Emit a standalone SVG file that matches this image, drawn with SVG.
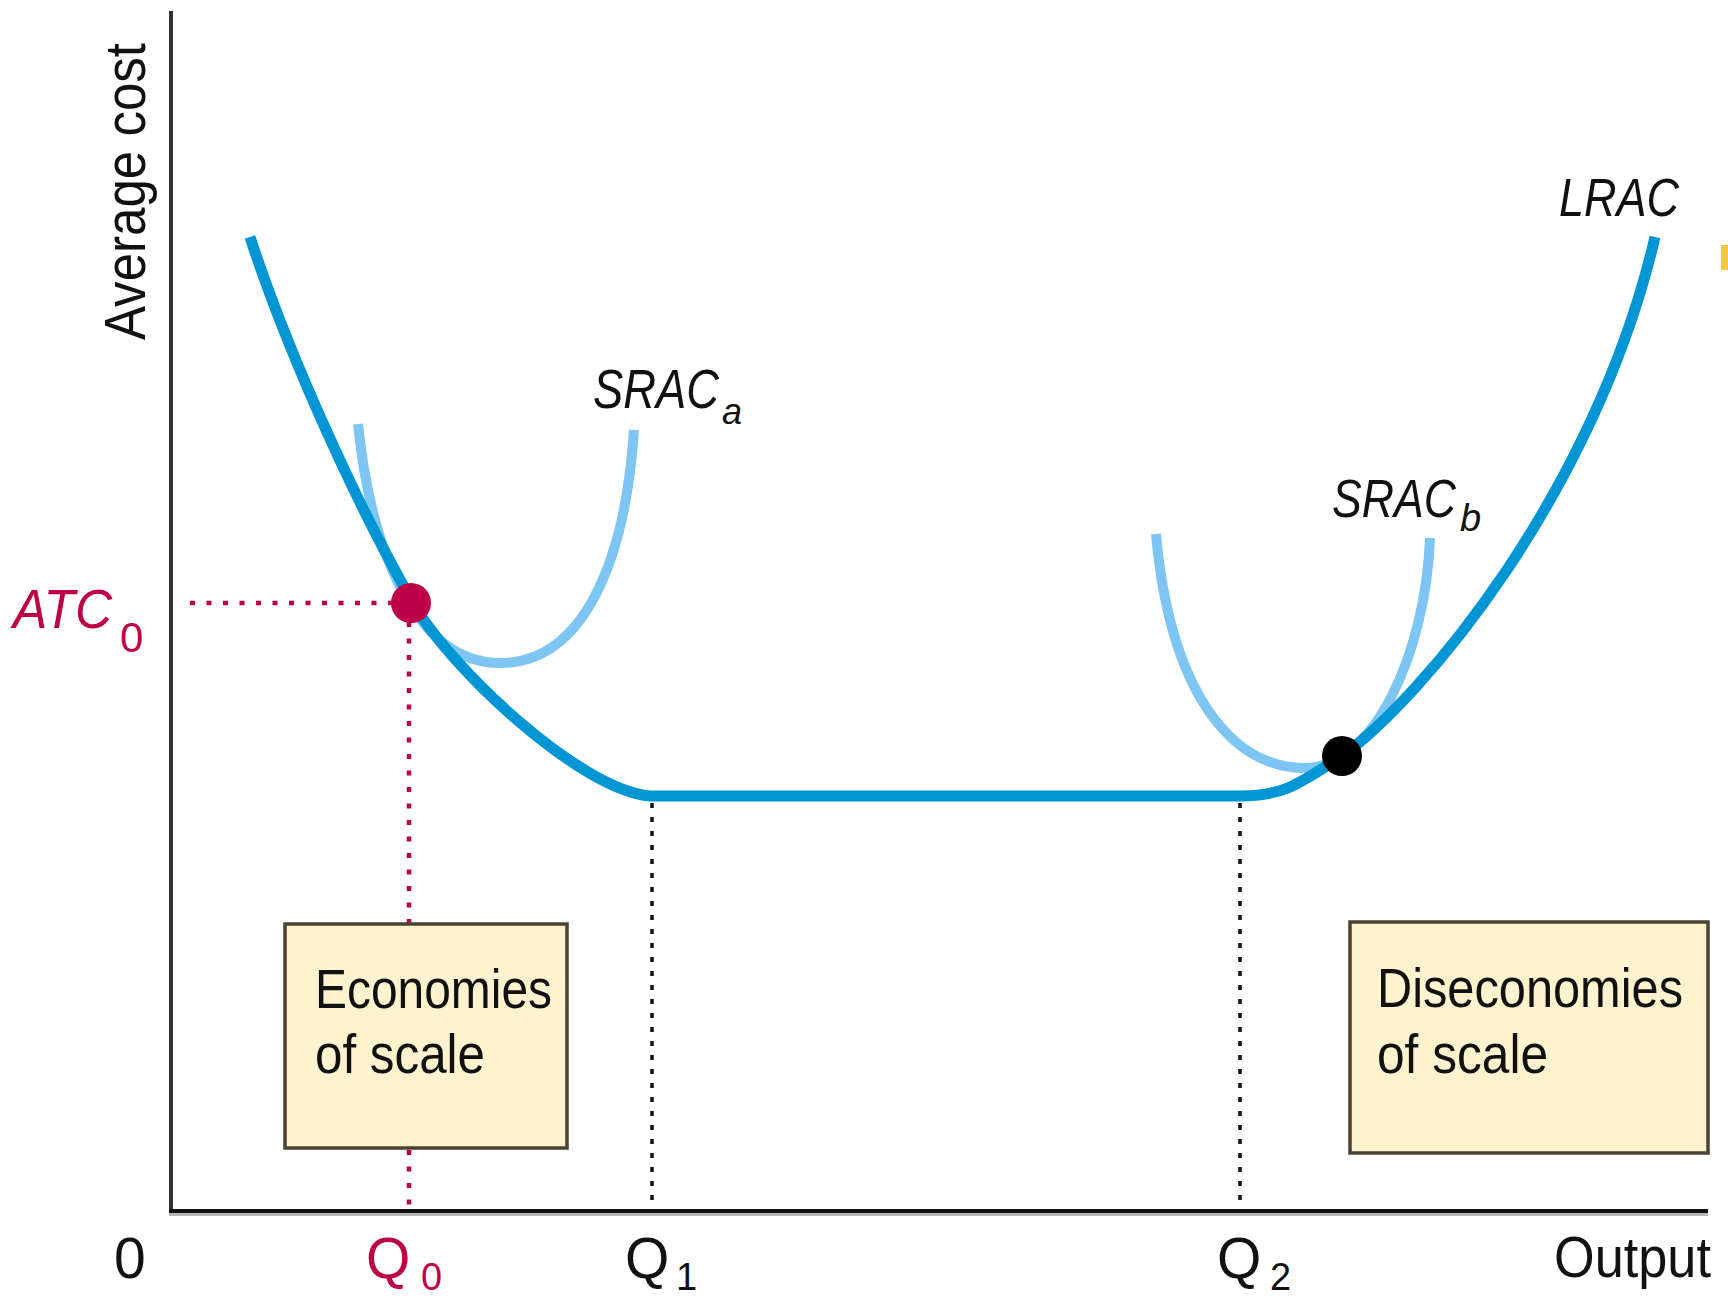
<svg xmlns="http://www.w3.org/2000/svg" width="1728" height="1298" viewBox="0 0 1728 1298">
<style>
.lbl{font-family:"Liberation Sans",Arial,sans-serif;fill:#111}
.it{font-style:italic}
.pink{fill:#BE0048}
.lrac{fill:none;stroke:#0096D6;stroke-width:11;stroke-linecap:butt;stroke-linejoin:round}
.srac{fill:none;stroke:#7DC6F3;stroke-width:10;stroke-linecap:butt}
.box{fill:#FFF3CF;stroke:#4B4233;stroke-width:3.5}
.dotp{stroke:#BE0048;stroke-width:4.5;stroke-dasharray:5 11.5;fill:none}
.dotk{stroke:#111;stroke-width:3.5;stroke-dasharray:5 9;fill:none}
</style>
<rect width="1728" height="1298" fill="#fff"/>
<rect x="1721" y="245" width="7" height="25" fill="#F5C440"/>
<g id="axes">
<rect x="169" y="11" width="4" height="1202" fill="#333"/>
<rect x="169" y="1209" width="1539" height="4" fill="#111"/>
<rect x="169" y="1213" width="1539" height="3" fill="#b5b5b5"/>
</g>
<g id="guides">
<line class="dotp" x1="190" y1="603" x2="395" y2="603"/>
<line class="dotp" x1="409" y1="622" x2="409" y2="1210"/>
<line class="dotk" x1="652" y1="803" x2="652" y2="1203"/>
<line class="dotk" x1="1240" y1="803" x2="1240" y2="1203"/>
</g>
<g id="connectors">
<path class="srac" d="M358,424 C372,560 420,663 500,663 C582,663 625,565 634,430"/>
<path class="srac" d="M1156,534 C1170,690 1230,768 1305,768 C1375,768 1426,650 1430,538"/>
<path class="lrac" d="M250,237 C290,360 360,510 413,603 C450,668 580,790 650,796 L1240,796 C1285,796 1300,783 1342,756 C1420,700 1595,495 1655,237"/>
</g>
<g id="points">
<circle cx="411" cy="603" r="20" fill="#BE0048"/>
<circle cx="1342" cy="756" r="20" fill="#000"/>
</g>
<g id="box-economies">
<rect class="box" x="285" y="924" width="282" height="224"/>
<text class="lbl" x="315" y="1008" font-size="56" textLength="237" lengthAdjust="spacingAndGlyphs">Economies</text>
<text class="lbl" x="315" y="1073" font-size="56" textLength="170" lengthAdjust="spacingAndGlyphs">of scale</text>
</g>
<g id="box-diseconomies">
<rect class="box" x="1350" y="922" width="358" height="231"/>
<text class="lbl" x="1377" y="1007" font-size="56" textLength="306" lengthAdjust="spacingAndGlyphs">Diseconomies</text>
<text class="lbl" x="1377" y="1073" font-size="56" textLength="171" lengthAdjust="spacingAndGlyphs">of scale</text>
</g>
<g id="labels">
<text class="lbl" transform="translate(145,340) rotate(-90)" font-size="57" textLength="297" lengthAdjust="spacingAndGlyphs">Average cost</text>
<text class="lbl it" x="1559" y="216" font-size="54" textLength="120" lengthAdjust="spacingAndGlyphs">LRAC</text>
<text class="lbl it" x="593" y="408" font-size="56" textLength="126" lengthAdjust="spacingAndGlyphs">SRAC</text>
<text class="lbl it" x="722" y="424" font-size="36">a</text>
<text class="lbl it" x="1332" y="517" font-size="54" textLength="124" lengthAdjust="spacingAndGlyphs">SRAC</text>
<text class="lbl it" x="1460" y="531" font-size="38">b</text>
<text class="lbl it pink" x="13" y="628" font-size="56" textLength="99" lengthAdjust="spacingAndGlyphs">ATC</text>
<text class="lbl pink" x="120" y="652" font-size="42">0</text>
<text class="lbl" x="114" y="1278" font-size="57">0</text>
<text class="lbl pink" x="366" y="1278" font-size="57">Q</text>
<text class="lbl pink" x="421" y="1290" font-size="38">0</text>
<text class="lbl" x="625" y="1278" font-size="57">Q</text>
<text class="lbl" x="676" y="1290" font-size="38">1</text>
<text class="lbl" x="1217" y="1278" font-size="57">Q</text>
<text class="lbl" x="1270" y="1290" font-size="38">2</text>
<text class="lbl" x="1554" y="1277" font-size="57" textLength="157" lengthAdjust="spacingAndGlyphs">Output</text>
</g>
</svg>
